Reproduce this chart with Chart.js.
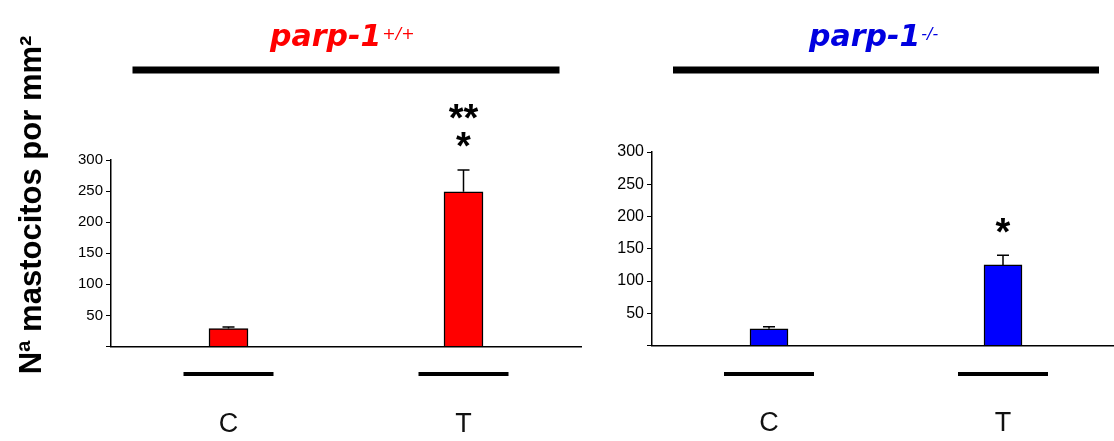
<!DOCTYPE html>
<html><head><meta charset="utf-8">
<script src="https://cdn.jsdelivr.net/npm/chart.js@4"></script>
<style>
html,body{margin:0;padding:0;width:1114px;height:441px;overflow:hidden;background:#fff;}
#wrap{position:relative;width:1114px;height:441px;overflow:hidden;}
canvas{position:absolute;top:0;}
.ptitle{position:absolute;top:21px;line-height:30px;font-family:"DejaVu Sans";font-weight:bold;font-style:italic;font-size:30px;white-space:nowrap;}
.ptitle span.sup{font-size:16px;font-weight:normal;position:relative;top:-7px;margin-left:1px;}
#ytitle{position:absolute;left:-169px;top:187px;width:400px;height:36px;line-height:36px;text-align:center;font-family:"Liberation Sans";font-weight:bold;font-size:31px;transform:rotate(-90deg);white-space:nowrap;color:#000;}
</style></head>
<body>
<div id="wrap">
  <canvas id="c1" width="600" height="441" style="left:0;width:600px;height:441px"></canvas>
  <canvas id="c2" width="520" height="441" style="left:600px;width:520px;height:441px"></canvas>
  <div id="t1" class="ptitle" style="left:270px;color:#ff0000"></div>
  <div id="t2" class="ptitle" style="left:809px;color:#0000e0"></div>
  <div id="ytitle"></div>
</div>
<script>
// ---- data ----
const categories = ['C', 'T'];
const wtMeans = [29, 249];
const wtErrors = [2.5, 35];
const koMeans = [26, 125];
const koErrors = [3, 15];
const wtSignificance = [[], ['**', '*']];
const koSignificance = [[], ['*']];
const panelTitles = ['parp-1', 'parp-1'];
const panelGenotypes = ['+/+', '-/-'];
const yAxisTitle = 'Nª mastocitos por mm²';
const yMin = 0, yMax = 300, yStep = 50;

// ---- text ----
document.getElementById('t1').innerHTML = panelTitles[0] + '<span class="sup">' + panelGenotypes[0] + '</span>';
document.getElementById('t2').innerHTML = panelTitles[1] + '<span class="sup">' + panelGenotypes[1] + '</span>';
document.getElementById('ytitle').textContent = yAxisTitle;

// ---- decorations: error bars, significance marks, group lines ----
const decorPlugin = {
  id: 'decor',
  afterDatasetsDraw(chart, args, opts) {
    const ctx = chart.ctx;
    const meta = chart.getDatasetMeta(0);
    const ys = chart.scales.y;
    const xs = chart.scales.x;
    ctx.save();
    ctx.strokeStyle = '#000';
    ctx.fillStyle = '#000';
    meta.data.forEach((bar, i) => {
      const top = ys.getPixelForValue(opts.means[i] + opts.errors[i]);
      ctx.lineWidth = 1.5;
      ctx.beginPath();
      ctx.moveTo(bar.x, bar.y);
      ctx.lineTo(bar.x, top);
      ctx.moveTo(bar.x - opts.cap, top);
      ctx.lineTo(bar.x + opts.cap, top);
      ctx.stroke();
      // significance
      ctx.font = 'bold 38px "Liberation Sans"';
      ctx.textAlign = 'center';
      ctx.textBaseline = 'alphabetic';
      const lines = opts.sig[i];
      for (let k = 0; k < lines.length; k++) {
        const s = lines[lines.length - 1 - k];
        const m = ctx.measureText(s);
        const cy = top - opts.sigGap - opts.sigStep * k;
        ctx.fillText(s, bar.x, cy + (m.actualBoundingBoxAscent - m.actualBoundingBoxDescent) / 2);
      }
      // category underline
      ctx.lineWidth = 4;
      ctx.beginPath();
      ctx.moveTo(bar.x - opts.under, opts.underY);
      ctx.lineTo(bar.x + opts.under, opts.underY);
      ctx.stroke();
    });
    // group line
    const x0 = xs.getPixelForValue(0), x1 = xs.getPixelForValue(categories.length - 1);
    ctx.lineWidth = 7;
    ctx.beginPath();
    ctx.moveTo(x0 - opts.groupExt, opts.groupY);
    ctx.lineTo(x1 + opts.groupExt, opts.groupY);
    ctx.stroke();
    ctx.restore();
  }
};

function makeChart(id, means, errors, sig, color, pad, yWidth, xHeight, tickSize, barW) {
  return new Chart(document.getElementById(id), {
    type: 'bar',
    data: {
      labels: categories,
      datasets: [{
        data: means,
        backgroundColor: color,
        borderColor: '#000',
        borderWidth: 1.5,
        borderSkipped: 'bottom',
        barThickness: barW
      }]
    },
    options: {
      responsive: false,
      animation: false,
      layout: { padding: pad },
      plugins: {
        legend: { display: false },
        tooltip: { enabled: false },
        decor: { means, errors, sig, cap: 6, sigGap: 30, sigStep: 28, under: 45, underY: 374, groupExt: 96, groupY: 70 }
      },
      scales: {
        x: {
          type: 'category',
          offset: true,
          grid: { display: false, drawTicks: false },
          border: { color: '#000', width: 1.5 },
          ticks: { padding: 62, color: '#111', font: { family: 'Liberation Sans', size: 27 } },
          afterFit(s) { s.height = xHeight; }
        },
        y: {
          min: yMin, max: yMax,
          ticks: {
            stepSize: yStep, padding: 3, color: '#000',
            font: { family: 'Liberation Sans', size: tickSize },
            callback: v => (v === 0 ? '' : v)
          },
          grid: { drawOnChartArea: false, color: '#000', tickLength: 5, lineWidth: 1 },
          border: { color: '#000', width: 1.5 },
          afterFit(s) { s.width = yWidth; }
        }
      }
    },
    plugins: [decorPlugin]
  });
}

makeChart('c1', wtMeans, wtErrors, wtSignificance, '#ff0000', { top: 160, right: 19, bottom: 0, left: 0 }, 111, 94.5, 15, 39);
makeChart('c2', koMeans, koErrors, koSignificance, '#0000ff', { top: 152, right: 0, bottom: 0, left: 0 }, 52, 95.5, 16, 38);
</script>
</body></html>
